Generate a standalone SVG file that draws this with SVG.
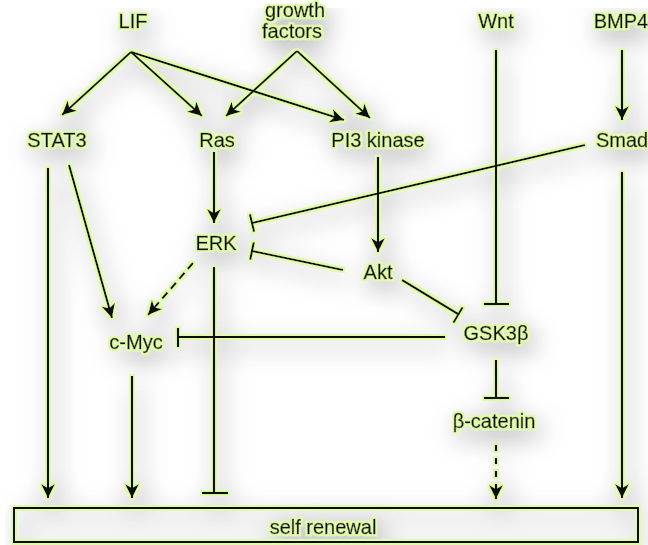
<svg xmlns="http://www.w3.org/2000/svg" width="648" height="545" viewBox="0 0 648 545">
<defs>
<style>
text{font-family:"Liberation Sans",Arial,sans-serif;font-size:20px;fill:#111;stroke:#111;stroke-width:0.45;text-anchor:middle}
.ln{stroke:#111;stroke-width:2.2;fill:none}
.dash{stroke-dasharray:8 5}
.dash2{stroke-dasharray:6 7}
.box{fill:none;stroke:#111;stroke-width:2}
</style>
<marker id="arr" markerUnits="userSpaceOnUse" markerWidth="16" markerHeight="16" refX="14" refY="8" orient="auto">
<path d="M0,1 L14,8 L0,15 L4,8 z" fill="#111"/>
</marker>
<filter id="fx" filterUnits="userSpaceOnUse" x="0" y="0" width="648" height="545">
<feGaussianBlur in="SourceAlpha" stdDeviation="13" result="b"/>
<feOffset in="b" dx="5" dy="8" result="bo"/>
<feComponentTransfer in="bo" result="sh"><feFuncA type="linear" slope="2.2"/></feComponentTransfer>
<feFlood flood-color="#9a9a9a" result="gc"/>
<feComposite in="gc" in2="sh" operator="in" result="shadow"/>
<feMorphology in="SourceAlpha" operator="dilate" radius="1.5" result="d"/>
<feFlood flood-color="#e2fbab"/>
<feComposite in2="d" operator="in" result="glow"/>
<feMerge><feMergeNode in="shadow"/><feMergeNode in="glow"/><feMergeNode in="SourceGraphic"/></feMerge>
</filter>
</defs>
<rect width="648" height="545" fill="#ffffff"/>
<g filter="url(#fx)">
<g id="connectors">
<line class="ln" x1="131" y1="52" x2="62" y2="115" marker-end="url(#arr)"/>
<line class="ln" x1="131" y1="52" x2="202" y2="116" marker-end="url(#arr)"/>
<line class="ln" x1="131" y1="52" x2="344" y2="120" marker-end="url(#arr)"/>
<line class="ln" x1="297" y1="51" x2="226" y2="116" marker-end="url(#arr)"/>
<line class="ln" x1="297" y1="51" x2="370" y2="118" marker-end="url(#arr)"/>
<line class="ln" x1="496" y1="50" x2="496" y2="304"/>
<line class="ln" x1="484" y1="304" x2="509" y2="304"/>
<line class="ln" x1="622" y1="50" x2="622" y2="120" marker-end="url(#arr)"/>
<line class="ln" x1="585" y1="145" x2="252" y2="223"/>
<line class="ln" x1="249.9" y1="214.2" x2="254.1" y2="231.8"/>
<line class="ln" x1="214" y1="152" x2="214" y2="223" marker-end="url(#arr)"/>
<line class="ln" x1="378" y1="157" x2="378" y2="252" marker-end="url(#arr)"/>
<line class="ln" x1="343" y1="270" x2="252" y2="251"/>
<line class="ln" x1="253.8" y1="242.2" x2="250.2" y2="259.8"/>
<line class="ln" x1="402" y1="280" x2="458" y2="314"/>
<line class="ln" x1="462.6" y1="307.3" x2="453.4" y2="322.7"/>
<line class="ln" x1="445" y1="337" x2="178" y2="337"/>
<line class="ln" x1="178" y1="328" x2="178" y2="347"/>
<line class="ln" x1="69" y1="165" x2="112" y2="318" marker-end="url(#arr)"/>
<line class="ln dash" x1="193" y1="263" x2="148" y2="315" marker-end="url(#arr)"/>
<line class="ln" x1="48" y1="168" x2="48" y2="498" marker-end="url(#arr)"/>
<line class="ln" x1="132" y1="376" x2="132" y2="498" marker-end="url(#arr)"/>
<line class="ln" x1="214" y1="267" x2="214" y2="493"/>
<line class="ln" x1="202" y1="493" x2="228" y2="493"/>
<line class="ln" x1="496" y1="360" x2="496" y2="398"/>
<line class="ln" x1="484" y1="398" x2="509" y2="398"/>
<line class="ln dash2" x1="496" y1="445" x2="496" y2="499" marker-end="url(#arr)"/>
<line class="ln" x1="622" y1="172" x2="622" y2="498" marker-end="url(#arr)"/>
</g>
<g id="LIF"><text x="133" y="28">LIF</text></g>
<g id="growth-factors"><text x="295" y="17">growth</text><text x="292" y="38">factors</text></g>
<g id="Wnt"><text x="496" y="28">Wnt</text></g>
<g id="BMP4"><text x="621" y="28">BMP4</text></g>
<g id="STAT3"><text x="57" y="147">STAT3</text></g>
<g id="Ras"><text x="217" y="147">Ras</text></g>
<g id="PI3-kinase"><text x="378" y="147">PI3 kinase</text></g>
<g id="Smad"><text x="622" y="147">Smad</text></g>
<g id="ERK"><text x="216" y="250">ERK</text></g>
<g id="Akt"><text x="378" y="279">Akt</text></g>
<g id="c-Myc"><text x="136" y="349">c-Myc</text></g>
<g id="GSK3b"><text x="496" y="340">GSK3β</text></g>
<g id="b-catenin"><text x="494" y="428">β-catenin</text></g>
<g id="self-renewal"><rect class="box" x="14" y="508" width="624" height="34"/><text x="323" y="534">self renewal</text></g>
</g>
</svg>
